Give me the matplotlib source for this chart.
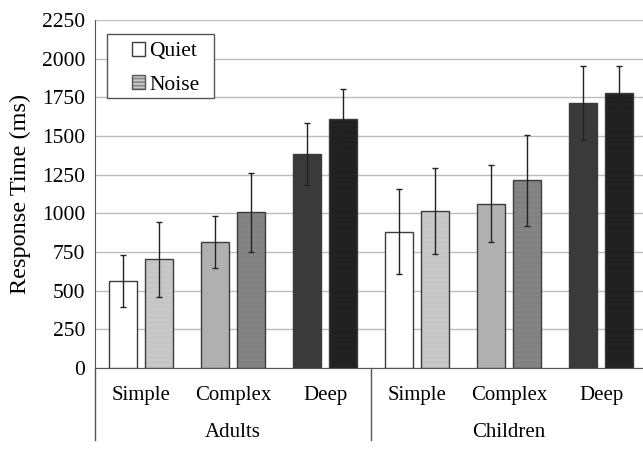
import matplotlib.pyplot as plt
import numpy as np
from matplotlib.patches import Patch, Rectangle

plt.rcParams['font.family'] = ['Liberation Serif', 'DejaVu Serif']
plt.rcParams['hatch.linewidth'] = 0.5

groups = ['Adults', 'Children']
tasks = ['Simple', 'Complex', 'Deep']
quiet = [562, 815, 1386, 881, 1063, 1713]
noise = [703, 1006, 1610, 1013, 1213, 1776]
quiet_err = [170, 170, 200, 274, 251, 239]
noise_err = [242, 253, 195, 278, 294, 176]
yticks = [0, 250, 500, 750, 1000, 1250, 1500, 1750, 2000, 2250]

base_colors = ['white', '#b0b0b0', '#3a3a3a'] * 2
hatch_colors = ['#bcbcbc', '#7a7a7a', '#1c1c1c'] * 2
HATCH = '-' * 20

fig = plt.figure(figsize=(6.43, 4.49), dpi=100)
ax = fig.add_axes([95 / 643, 81 / 449, 548 / 643, 348 / 449])

x = np.arange(len(quiet))
w = 0.305
off = 0.195
edge = '#3c3c3c'

ax.bar(x - off, quiet, w, color=base_colors, edgecolor=edge, linewidth=1, zorder=3)
for i in range(len(noise)):
    ax.bar(x[i] + off, noise[i], w, color=base_colors[i], edgecolor=hatch_colors[i],
           hatch=HATCH, linewidth=0, zorder=3)
ax.bar(x + off, noise, w, fill=False, edgecolor=edge, linewidth=1, zorder=4)

ax.errorbar(x - off, quiet, yerr=quiet_err, fmt='none', ecolor='#222222',
            elinewidth=1, capsize=2, capthick=1, zorder=5)
ax.errorbar(x + off, noise, yerr=noise_err, fmt='none', ecolor='#222222',
            elinewidth=1, capsize=2, capthick=1, zorder=5)

ax.set_xlim(-0.5, -0.5 + 548 / 92)
ax.set_ylim(0, 2250)
ax.set_yticks(yticks)
ax.set_yticklabels([str(t) for t in yticks], fontsize=15.5)
ax.tick_params(axis='y', length=0, pad=7)
ax.set_xticks([])
ax.grid(axis='y', color='#bdbdbd', linewidth=1, zorder=0)
ax.set_axisbelow(True)
for s in ['top', 'right']:
    ax.spines[s].set_visible(False)
ax.spines['left'].set_color('#555555')
ax.spines['bottom'].set_color('#555555')
ax.set_ylabel('Response Time (ms)', fontsize=17.5, labelpad=8)

tr = ax.get_xaxis_transform()
for i in range(len(quiet)):
    ax.text(x[i], -0.078, tasks[i % 3], transform=tr, ha='center', va='center', fontsize=15)
for g, name in enumerate(groups):
    ax.text(g * 3 + 1, -0.186, name, transform=tr, ha='center', va='center', fontsize=15)
for xs in [-0.5, 2.5]:
    ax.plot([xs, xs], [0, -0.207], transform=tr, color='#555555', linewidth=1, clip_on=False)

# legend box drawn separately so it can be wider than the entries
box = Rectangle((12 / 548, 1 - 78 / 348), 107 / 548, 64 / 348, transform=ax.transAxes,
                facecolor='white', edgecolor='#555555', linewidth=1, zorder=6)
ax.add_patch(box)
handles = [Patch(facecolor='white', edgecolor=edge, label='Quiet'),
           Patch(facecolor='white', edgecolor='#b0b0b0', hatch='-' * 12, label='Noise')]
leg = ax.legend(handles=handles, loc='upper left', bbox_to_anchor=(37 / 548, 1 - 22 / 348),
                fontsize=15.5, frameon=False,
                handlelength=0.6, handleheight=0.6, handletextpad=0.2,
                borderpad=0, labelspacing=0.65, borderaxespad=0)
leg.set_zorder(7)
leg.legend_handles[1].set_edgecolor('#555555')

fig.savefig('out.png', dpi=100)
